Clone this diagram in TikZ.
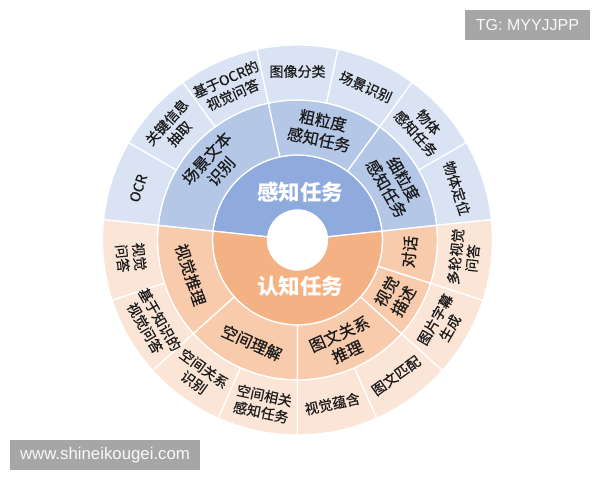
\documentclass[tikz,border=0pt]{standalone}
\usepackage{fontspec}
\newfontfamily\cjk{Noto Sans CJK SC}
\newfontfamily\cjkm[FakeBold=0.5]{Noto Sans CJK SC}
\newfontfamily\wmfont{Liberation Sans}
\definecolor{blueA}{HTML}{8FAADC}
\definecolor{blueB}{HTML}{B4C7E7}
\definecolor{blueC}{HTML}{DAE3F3}
\definecolor{orangeA}{HTML}{F4B183}
\definecolor{orangeB}{HTML}{F8CBAD}
\definecolor{orangeC}{HTML}{FBE5D6}
\definecolor{wmgray}{HTML}{A6A6A6}
\definecolor{labtext}{HTML}{1A1A1A}
\newcommand\drawsector[5]{%
  \filldraw[fill=#5, draw=white, line width=1.3pt, line join=round]
    (#1:#3) arc[start angle=#1, end angle=#2, radius=#3]
    -- (#2:#4) arc[start angle=#2, end angle=#1, radius=#4] -- cycle;}
\tikzset{
  labinner/.style={text=white, font=\cjk\bfseries\fontsize{21.5}{24}\selectfont, align=center, inner sep=0pt},
  labmid/.style={text=labtext, font=\cjkm\fontsize{16}{19.5}\selectfont, align=center, inner sep=0pt},
  labout/.style={text=labtext, font=\cjkm\fontsize{14}{17}\selectfont, align=center, inner sep=0pt},
  wmbox/.style={fill=wmgray, text=white!95!gray, font=\wmfont\fontsize{16}{18}\selectfont, inner sep=0pt, anchor=center}
}
\begin{document}
\begin{tikzpicture}[x=1pt,y=1pt]
\useasboundingbox (0,0) rectangle (600,480);
\fill[white] (0,0) rectangle (600,480);
\begin{scope}[shift={(297.5,240)}]
% inner ring
\drawsector{6}{174}{30pt}{85pt}{blueA}
\drawsector{174}{366}{30pt}{85pt}{orangeA}
% middle ring
\drawsector{102}{174}{85pt}{140pt}{blueB}
\drawsector{54}{102}{85pt}{140pt}{blueB}
\drawsector{6}{54}{85pt}{140pt}{blueB}
\drawsector{174}{222}{85pt}{140pt}{orangeB}
\drawsector{222}{270}{85pt}{140pt}{orangeB}
\drawsector{270}{318}{85pt}{140pt}{orangeB}
\drawsector{318}{342}{85pt}{140pt}{orangeB}
\drawsector{342}{366}{85pt}{140pt}{orangeB}
% outer ring
\drawsector{150}{174}{140pt}{195pt}{blueC}
\drawsector{126}{150}{140pt}{195pt}{blueC}
\drawsector{102}{126}{140pt}{195pt}{blueC}
\drawsector{78}{102}{140pt}{195pt}{blueC}
\drawsector{54}{78}{140pt}{195pt}{blueC}
\drawsector{30}{54}{140pt}{195pt}{blueC}
\drawsector{6}{30}{140pt}{195pt}{blueC}
\drawsector{174}{198}{140pt}{195pt}{orangeC}
\drawsector{198}{222}{140pt}{195pt}{orangeC}
\drawsector{222}{246}{140pt}{195pt}{orangeC}
\drawsector{246}{270}{140pt}{195pt}{orangeC}
\drawsector{270}{294}{140pt}{195pt}{orangeC}
\drawsector{294}{318}{140pt}{195pt}{orangeC}
\drawsector{318}{342}{140pt}{195pt}{orangeC}
\drawsector{342}{366}{140pt}{195pt}{orangeC}
% hole
\fill[white] (0,0) circle[radius=30pt];
% inner labels
\node[labinner] (perc) at (2.5,48) {感知任务};
\node[labinner] (cogn) at (2.5,-46) {认知任务};
% middle labels
\node[labmid, rotate=48] (mSTR) at (138:112.5pt) {场景文本\\识别};
\node[labmid, rotate=-12] (mCoarse) at (78:112.5pt) {粗粒度\\感知任务};
\node[labmid, rotate=-60] (mFine) at (30:112.5pt) {细粒度\\感知任务};
\node[labmid, rotate=-72] (mVR) at (198:112.5pt) {视觉推理};
\node[labmid, rotate=-24] (mSpace) at (246:112.5pt) {空间理解};
\node[labmid, rotate=24] (mITR) at (294:112.5pt) {图文关系\\推理};
\node[labmid, rotate=60] (mDesc) at (330:112.5pt) {视觉\\描述};
\node[labmid, rotate=84] (mDia) at (354:112.5pt) {对话};
% outer labels
\node[labout, rotate=72] (oOCR) at (162:167.5pt) {OCR};
\node[labout, rotate=48] (oKIE) at (138:167.5pt) {关键信息\\抽取};
\node[labout, rotate=24] (oOCRVQA) at (114:167.5pt) {基于OCR的\\视觉问答};
\node[labout, rotate=0] (oCls) at (90:168.5pt) {图像分类};
\node[labout, rotate=-24] (oScene) at (66:167.5pt) {场景识别};
\node[labout, rotate=-48] (oObj) at (42:167.5pt) {物体\\感知任务};
\node[labout, rotate=-72] (oLoc) at (18:167.5pt) {物体定位};
\node[labout, rotate=-84] (oVQA) at (186:167.5pt) {视觉\\问答};
\node[labout, rotate=-60] (oKVQA) at (210:167.5pt) {基于知识的\\视觉问答};
\node[labout, rotate=-36] (oSRR) at (234:167.5pt) {空间关系\\识别};
\node[labout, rotate=-12] (oSPT) at (258:167.5pt) {空间相关\\感知任务};
\node[labout, rotate=12] (oEnt) at (282:167.5pt) {视觉蕴含};
\node[labout, rotate=36] (oMatch) at (306:167.5pt) {图文匹配};
\node[labout, rotate=60] (oCap) at (330:167.5pt) {图片字幕\\生成};
\node[labout, rotate=84] (oMVQA) at (354:167.5pt) {多轮视觉\\问答};
\end{scope}
% watermarks
\node[wmbox, minimum width=125pt, minimum height=30pt] (tg) at (527.5,455) {TG: MYYJJPP};
\node[wmbox, minimum width=190pt, minimum height=30pt, font=\wmfont\fontsize{16.8}{18}\selectfont] (www) at (105,25) {www.shineikougei.com};
\end{tikzpicture}
\end{document}
